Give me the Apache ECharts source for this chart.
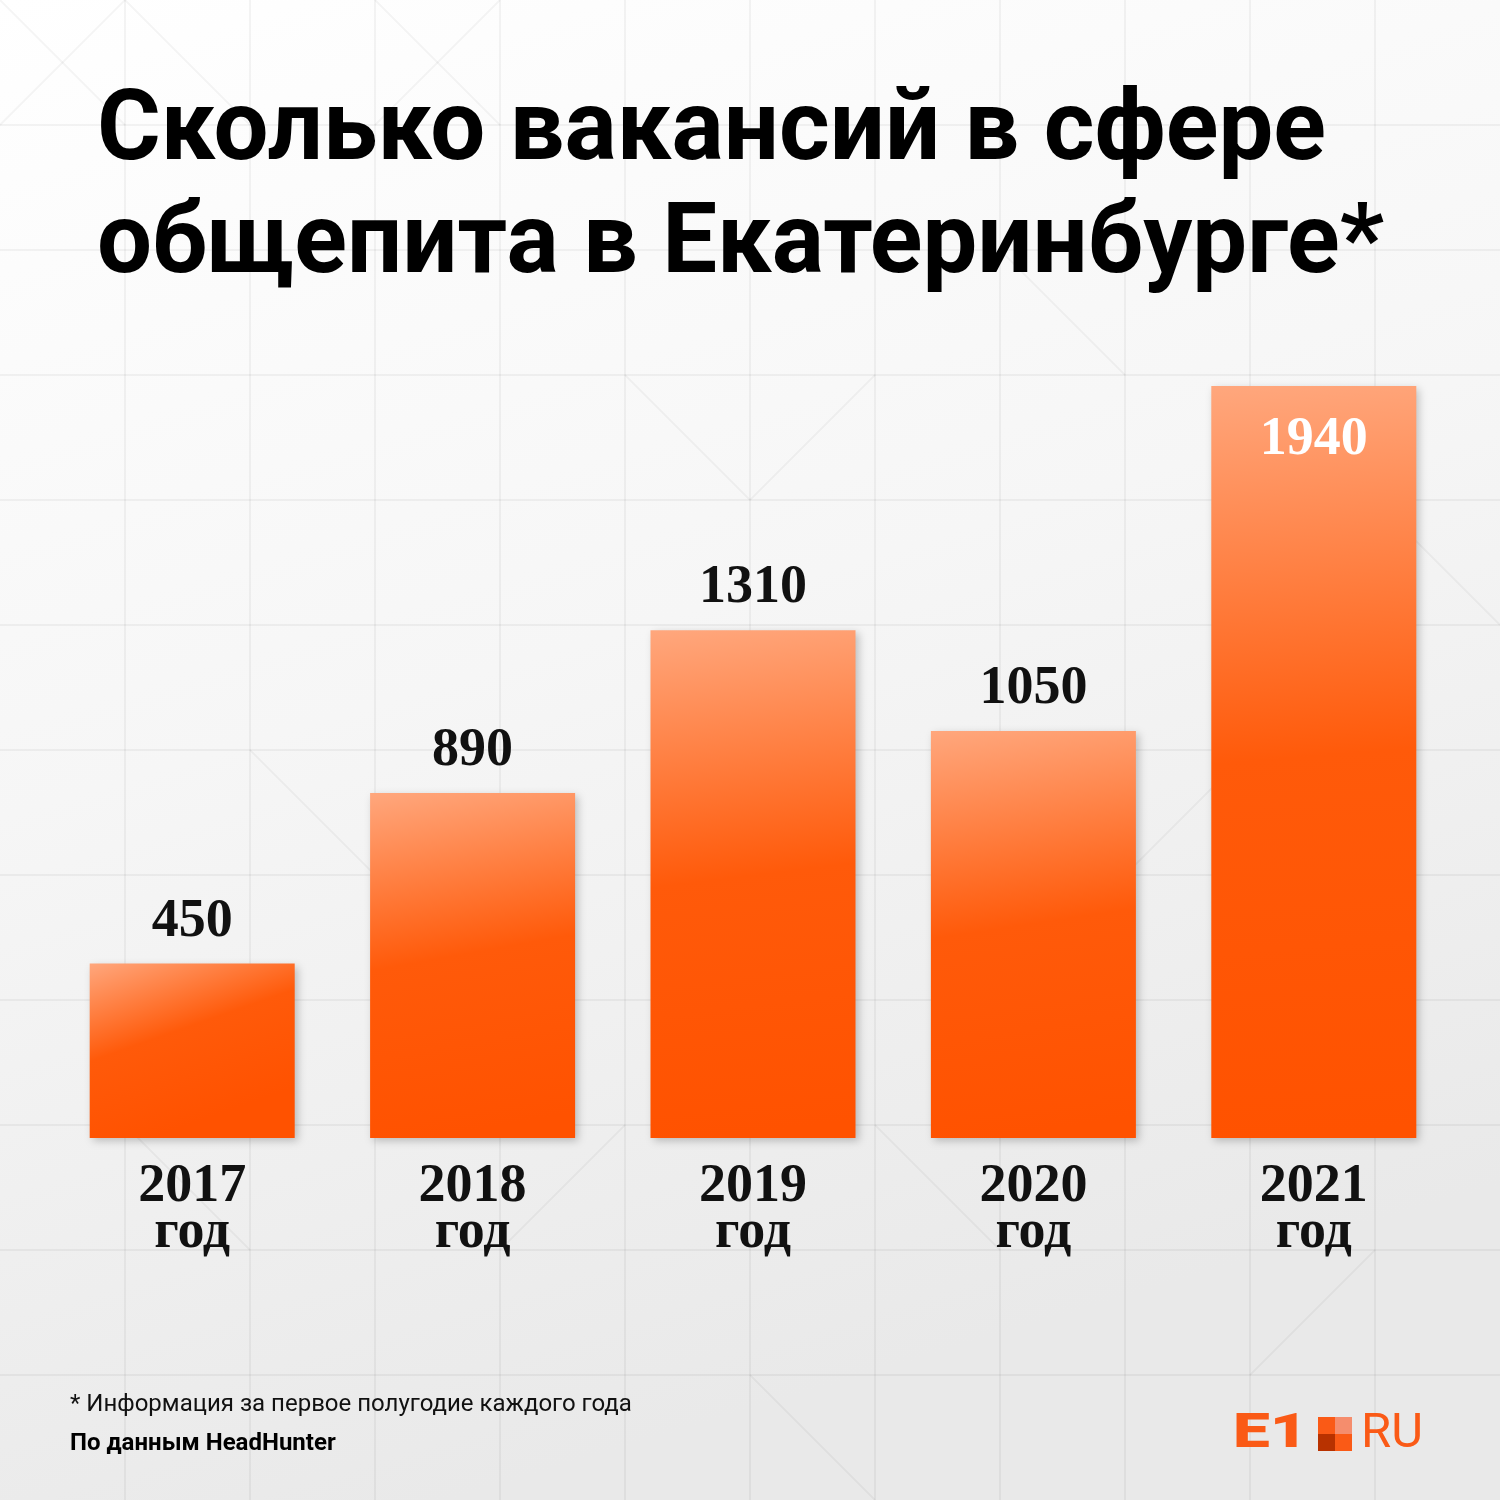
<!DOCTYPE html>
<html>
<head>
<meta charset="utf-8">
<script src="https://cdn.jsdelivr.net/npm/echarts@6/dist/echarts.min.js"></script>
<style>html,body{margin:0;padding:0;background:#fff}#c{width:1500px;height:1500px}</style>
</head>
<body>
<div id="c"></div>
<script>
const titleLines = ['Сколько вакансий в сфере', 'общепита в Екатеринбурге*'];
const years = ['2017', '2018', '2019', '2020', '2021'];
const yearSuffix = 'год';
const vacancies = [450, 890, 1310, 1050, 1940];
const footnote = '* Информация за первое полугодие каждого года';
const source = 'По данным HeadHunter';

const chart = echarts.init(document.getElementById('c'), null, {renderer: 'canvas'});

const SERIF = '"Liberation Serif", "DejaVu Serif", serif';
const SANS = 'Roboto, "Noto Sans", sans-serif';

// decorative background grid
const bg = [];
bg.push({type:'rect', z:-20, silent:true, shape:{x:0,y:0,width:1500,height:1500},
  style:{fill:new echarts.graphic.LinearGradient(0,0,0.3,1,[{offset:0,color:'#ffffff'},{offset:0.5,color:'#f6f6f6'},{offset:1,color:'#e9e9e9'}])}});
for (let i = 1; i < 12; i++) {
  bg.push({type:'line', z:-19, silent:true, shape:{x1:i*125,y1:0,x2:i*125,y2:1500}, style:{stroke:'rgba(0,0,0,0.045)',lineWidth:2}});
  bg.push({type:'line', z:-19, silent:true, shape:{x1:0,y1:i*125,x2:1500,y2:i*125}, style:{stroke:'rgba(0,0,0,0.045)',lineWidth:2}});
}
const diagCells = [[0,0,1],[0,0,-1],[1,0,1],[3,0,1],[3,0,-1],[2,6,1],[6,3,-1],[5,3,1],[8,2,1],[9,6,-1],[1,9,1],[4,9,-1],[7,9,1],[10,10,-1],[11,4,1],[6,11,1],[3,7,-1]];
diagCells.forEach(([cx,cy,d]) => {
  const x = cx*125, y = cy*125;
  bg.push({type:'line', z:-19, silent:true,
    shape: d > 0 ? {x1:x,y1:y,x2:x+125,y2:y+125} : {x1:x+125,y1:y,x2:x,y2:y+125},
    style:{stroke:'rgba(0,0,0,0.04)',lineWidth:2}});
});

const barGradient = new echarts.graphic.LinearGradient(0, 0, 0.3, 1, [
  {offset: 0, color: '#ffa77d'},
  {offset: 0.5, color: '#ff5a0a'},
  {offset: 1, color: '#ff5200'}
]);

const maxVal = Math.max(...vacancies);
const seriesData = vacancies.map(v => {
  const item = {value: v};
  if (v === maxVal) {
    item.label = {position: 'insideTop', distance: 27, color: '#ffffff'};
  }
  return item;
});

const option = {
  animation: false,
  grid: {left: 52, right: 46, top: 386, bottom: 362, containLabel: false},
  xAxis: {
    type: 'category',
    data: years.map(y => y + '\n' + yearSuffix),
    axisLine: {show: false},
    axisTick: {show: false},
    axisLabel: {
      margin: 26,
      fontFamily: SERIF, fontWeight: 'bold', fontSize: 54, lineHeight: 46, color: '#111111'
    }
  },
  yAxis: {
    type: 'value', min: 0, max: maxVal,
    show: false, splitLine: {show: false}
  },
  series: [{
    type: 'bar',
    barWidth: 205,
    data: seriesData,
    itemStyle: {
      color: barGradient,
      shadowColor: 'rgba(0,0,0,0.22)', shadowBlur: 8, shadowOffsetX: 3, shadowOffsetY: 3
    },
    label: {
      show: true, position: 'top', distance: 15,
      fontFamily: SERIF, fontWeight: 'bold', fontSize: 54, color: '#111111'
    }
  }],
  graphic: bg.concat([
    {type:'text', left: 97, top: 78, z: 10,
      style:{text: titleLines.join('\n'), font: 'bold 97.5px ' + SANS, lineHeight: 113, fill:'#000000'}},
    {type:'text', x: 70, y: 1405, z: 10,
      style:{text: footnote, font: '24px ' + SANS, fill:'#111111', verticalAlign:'middle'}},
    {type:'text', x: 70, y: 1444, z: 10,
      style:{text: source, font: 'bold 24px ' + SANS, fill:'#000000', verticalAlign:'middle'}},
    {type:'group', x: 1233, y: 1435, z: 10, children: [
      {type:'text', scaleX: 1.34, style:{text:'E1', font:'900 49px ' + SANS, fill:'#fa5a16', verticalAlign:'middle'}},
      {type:'rect', shape:{x:85, y:-18, width:17, height:17}, style:{fill:'#fa5a16'}},
      {type:'rect', shape:{x:102, y:-18, width:17, height:17}, style:{fill:'#f58d6d'}},
      {type:'rect', shape:{x:85, y:-1, width:17, height:17}, style:{fill:'#b83200'}},
      {type:'rect', shape:{x:102, y:-1, width:17, height:17}, style:{fill:'#fa5a16'}},
      {type:'text', x: 128, style:{text:'RU', font:'49px ' + SANS, fill:'#fa5a16', verticalAlign:'middle'}}
    ]}
  ])
};
chart.setOption(option);
</script>
</body>
</html>
